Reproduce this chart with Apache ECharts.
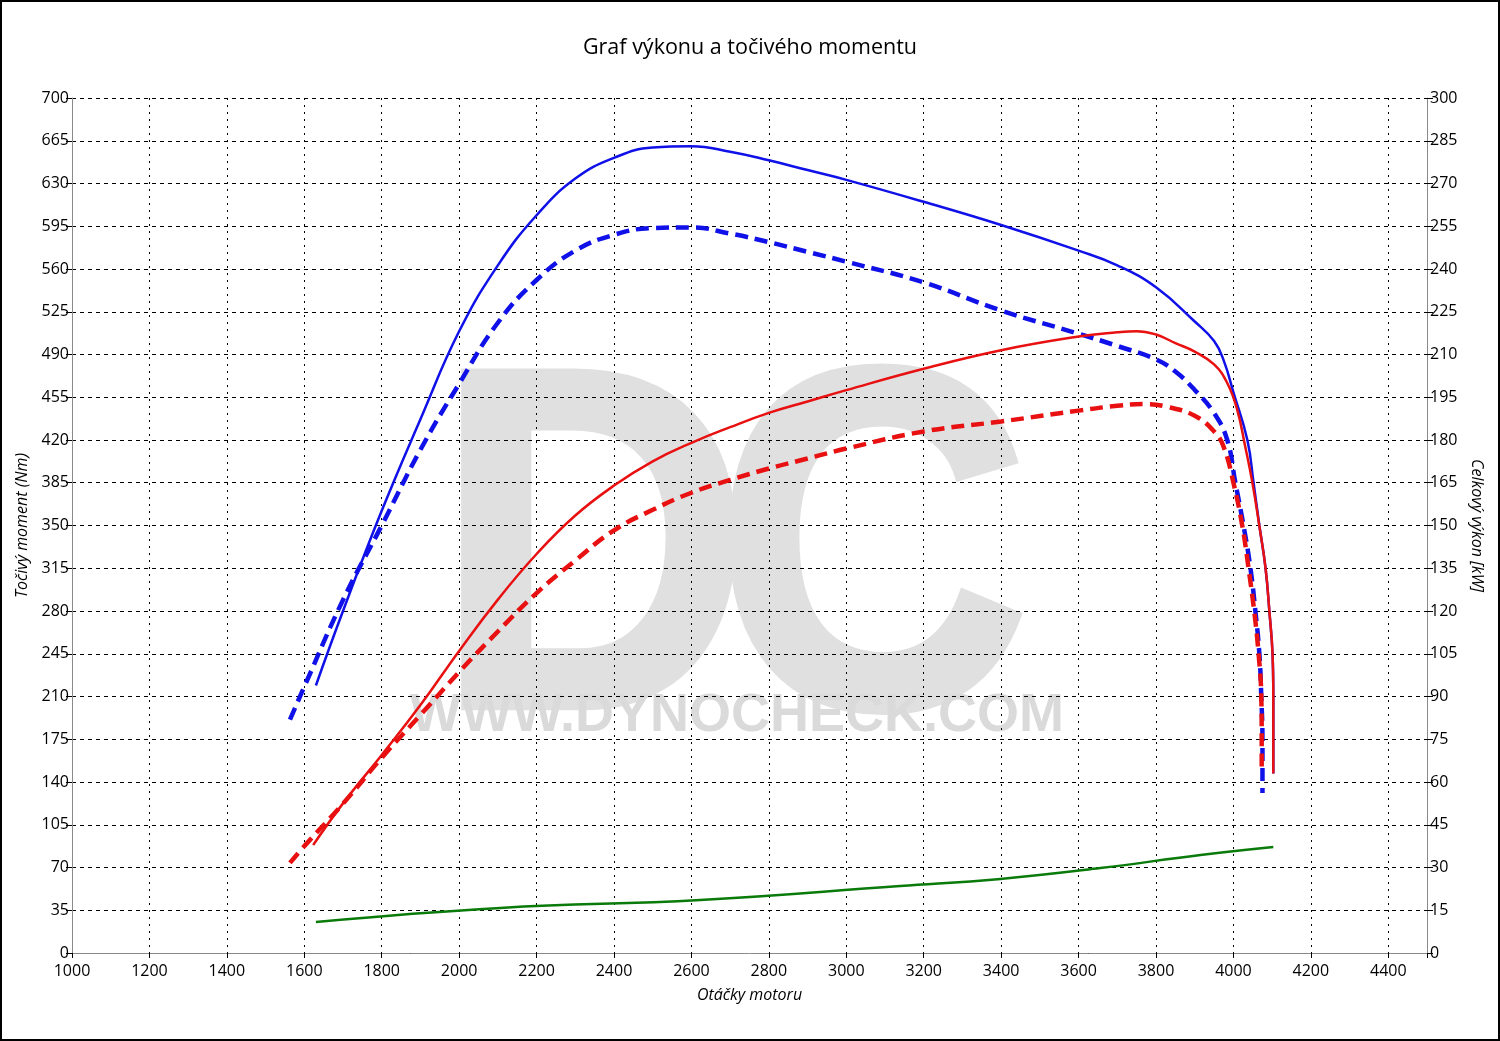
<!DOCTYPE html>
<html>
<head>
<meta charset="utf-8">
<script src="https://cdn.jsdelivr.net/npm/echarts@6/dist/echarts.min.js"></script>
<style>
html,body{margin:0;padding:0;background:#fff;}
#frame{position:absolute;left:0;top:0;width:1500px;height:1041px;box-sizing:border-box;border:2px solid #000;}
#chart{position:absolute;left:0;top:0;width:1500px;height:1041px;}
</style>
</head>
<body>
<div id="chart"></div>
<div id="frame"></div>
<script>
// Tuned torque (Nm) – blue solid
const rpmTunedTorque = [1630,1700,1800,1900,2000,2100,2200,2300,2400,2500,2600,2700,2800,2900,3000,3200,3400,3600,3700,3800,3900,3950,3975,4000,4036,4052,4067,4083,4093,4101,4103,4103];
const tunedTorque    = [219, 280, 362, 437, 509, 563, 604, 634, 651, 659.5,660.5,656, 649, 641, 633, 615, 596, 575, 563, 545, 517, 501, 485, 459, 420, 385, 350, 315, 279, 245, 210, 147];
// Stock torque (Nm) – blue dashed
const rpmStockTorque = [1563,1600,1700,1800,1900,2000,2100,2200,2300,2400,2500,2600,2700,2800,2900,3000,3200,3400,3600,3700,3800,3850,3900,3950,3984,4005,4026,4044,4057,4067,4072,4075,4075];
const stockTorque    = [191, 218, 289, 350, 412, 466, 516, 551, 575, 588, 593.5,594, 589, 582, 574, 566, 549, 526, 507, 497, 486, 476, 461, 442, 420, 385, 350, 315, 279, 245, 209.6,174,131];
// Tuned power (kW) – red solid
const rpmTunedPower  = [1623,1700,1800,1900,2000,2100,2200,2300,2400,2500,2600,2700,2800,2900,3000,3200,3400,3600,3700,3750,3800,3850,3900,3950,3984,4010,4030,4049,4067,4083,4093,4101,4103,4103];
const tunedPower     = [37.9,52.5,69.5,87,106,124,140,153.5,164,172.5,179,184.5,189.5,193.5,197.5,205,211.5,216.3,217.8,218.2,217,214,211,206.5,200,190.5,178,165,149.8,135,119.7,105,89.8,63];
// Stock power (kW) – red dashed
const rpmStockPower  = [1563,1600,1700,1800,1900,2000,2100,2200,2300,2400,2500,2600,2700,2800,2900,3000,3200,3400,3600,3700,3770,3830,3900,3950,3975,4000,4023,4039,4054,4065,4072,4073,4073];
const stockPower     = [31.6,37.5,52.4,68.5,83.5,98.6,112.8,126.3,137.7,148.3,155.5,161.5,166,170,173.5,177,183,186.5,190.3,192,192.6,191.6,188.5,183,177.5,165,149.8,135,119.6,105,89.8,74.7,63];
// Loss power (kW) – green
const rpmLoss        = [1630,2106,2623,3139,3398,3656,3915,4103];
const lossPower      = [10.9,15.8,18.6,23.5,26,29.8,34.4,37.2];

const pairs = (xs, ys) => xs.map((x, i) => [x, ys[i]]);

const FONT = '"Open Sans", "Noto Sans", sans-serif';
const WM = '"Liberation Sans", Arial, sans-serif';
const SM = 0.45;
const chart = echarts.init(document.getElementById('chart'), null, {renderer: 'canvas'});
chart.setOption({
  animation: false,
  backgroundColor: '#fff',
  title: {
    text: 'Graf výkonu a točivého momentu',
    left: 'center', top: 32,
    textStyle: {fontFamily: FONT, fontSize: 21.5, fontWeight: 'normal', color: '#000'}
  },
  graphic: [
    {type: 'text', z: -10, left: 432, top: 326, scaleX: 0.9,
     style: {text: 'D', fontFamily: WM, fontWeight: 'bold', fontSize: 485, fill: '#e0e0e0', stroke: '#e0e0e0', lineWidth: 8}},
    {type: 'text', z: -10, left: 711, top: 326, scaleX: 0.9,
     style: {text: 'C', fontFamily: WM, fontWeight: 'bold', fontSize: 485, fill: '#e0e0e0', stroke: '#e0e0e0', lineWidth: 8}},
    {type: 'text', z: -9, left: 410, top: 689,
     style: {text: 'WWW.DYNOCHECK.COM', fontFamily: WM, fontWeight: 'bold', fontSize: 54, fill: '#dadada'}}
  ],
  grid: {left: 72, right: 73, top: 98, bottom: 88, containLabel: false},
  xAxis: {
    type: 'value', min: 1000, max: 4500, interval: 200,
    name: 'Otáčky motoru', nameLocation: 'middle', nameGap: 34,
    nameTextStyle: {fontFamily: FONT, fontSize: 16, fontStyle: 'italic', color: '#000'},
    axisLine: {show: true, lineStyle: {color: '#8a8a8a', width: 1}},
    axisTick: {show: true, length: 5, lineStyle: {color: '#000'}},
    axisLabel: {fontFamily: FONT, fontSize: 16, color: '#000', margin: 10,
      formatter: v => (v % 200 === 0 ? String(v) : '')},
    splitLine: {show: true, lineStyle: {color: '#000', type: [2, 5], width: 1}}
  },
  yAxis: [
    {
      type: 'value', min: 0, max: 700, interval: 35, position: 'left',
      name: 'Točivý moment (Nm)', nameLocation: 'middle', nameGap: 29, nameRotate: 90,
      nameTextStyle: {fontFamily: FONT, fontSize: 16, fontStyle: 'italic', color: '#000'},
      axisLine: {show: true, lineStyle: {color: '#8a8a8a', width: 1}},
      axisTick: {show: true, length: 6, lineStyle: {color: '#000'}},
      axisLabel: {fontFamily: FONT, fontSize: 16, color: '#000', margin: 3},
      splitLine: {show: true, lineStyle: {color: '#000', type: [4, 4], width: 1}}
    },
    {
      type: 'value', min: 0, max: 300, interval: 15, position: 'right',
      name: 'Celkový výkon [kW]', nameLocation: 'middle', nameGap: 31, nameRotate: -90,
      nameTextStyle: {fontFamily: FONT, fontSize: 16, fontStyle: 'italic', color: '#000'},
      axisLine: {show: true, lineStyle: {color: '#8a8a8a', width: 1}},
      axisTick: {show: true, length: 6, lineStyle: {color: '#000'}},
      axisLabel: {fontFamily: FONT, fontSize: 16, color: '#000', margin: 3},
      splitLine: {show: false}
    }
  ],
  series: [
    {type: 'line', name: 'loss', yAxisIndex: 1, data: pairs(rpmLoss, lossPower), showSymbol: false,
     smooth: SM, lineStyle: {color: '#0a7a0a', width: 2.5}},
    {type: 'line', name: 'tuned torque', yAxisIndex: 0, data: pairs(rpmTunedTorque, tunedTorque), showSymbol: false,
     smooth: SM, lineStyle: {color: '#1010e8', width: 2.5}},
    {type: 'line', name: 'stock torque', yAxisIndex: 0, data: pairs(rpmStockTorque, stockTorque), showSymbol: false,
     smooth: SM, lineStyle: {color: '#1010e8', width: 4.5, type: [13, 7]}},
    {type: 'line', name: 'stock power', yAxisIndex: 1, data: pairs(rpmStockPower, stockPower), showSymbol: false,
     smooth: SM, lineStyle: {color: '#e81010', width: 4.5, type: [13, 7]}},
    {type: 'line', name: 'tuned power', yAxisIndex: 1, data: pairs(rpmTunedPower, tunedPower), showSymbol: false,
     smooth: SM, lineStyle: {color: '#e81010', width: 2.5}}
  ]
});
</script>
</body>
</html>
